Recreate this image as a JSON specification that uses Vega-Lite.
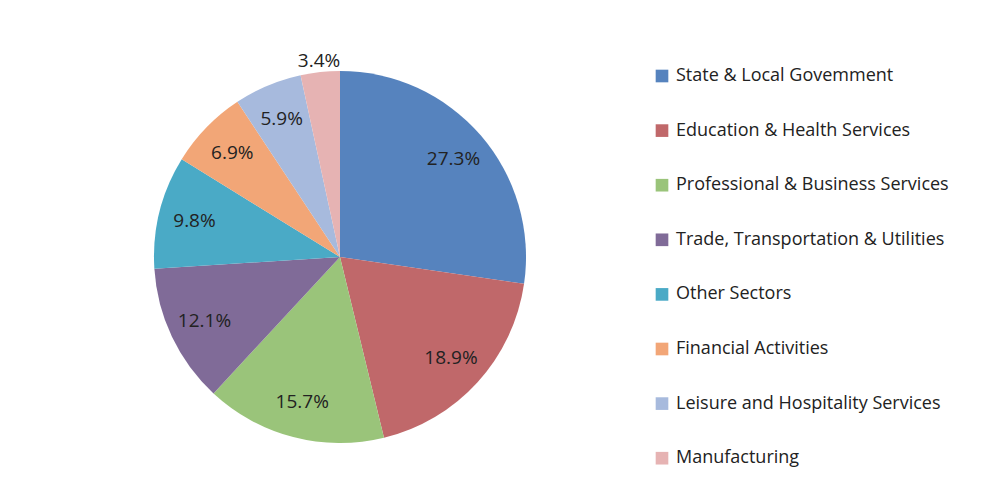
{
  "$schema": "https://vega.github.io/schema/vega-lite/v6.json",
  "width": 662,
  "height": 492,
  "autosize": {"type": "none"},
  "padding": {"left": 9, "top": 11, "right": 314, "bottom": 1},
  "background": "white",
  "data": {
    "values": [
      {"sector": "State & Local Govemment", "value": 27.3, "label": "27.3%", "order": 1},
      {"sector": "Education & Health Services", "value": 18.9, "label": "18.9%", "order": 2},
      {"sector": "Professional & Business Services", "value": 15.7, "label": "15.7%", "order": 3},
      {"sector": "Trade, Transportation & Utilities", "value": 12.1, "label": "12.1%", "order": 4},
      {"sector": "Other Sectors", "value": 9.8, "label": "9.8%", "order": 5},
      {"sector": "Financial Activities", "value": 6.9, "label": "6.9%", "order": 6},
      {"sector": "Leisure and Hospitality Services", "value": 5.9, "label": "5.9%", "order": 7},
      {"sector": "Manufacturing", "value": 3.4, "label": "3.4%", "order": 8}
    ]
  },
  "transform": [
    {"stack": "value", "groupby": [], "sort": [{"field": "order", "order": "ascending"}], "as": ["v0", "v1"]},
    {"calculate": "(datum.v0 + datum.v1) / 2", "as": "mid"}
  ],
  "encoding": {
    "color": {
      "field": "sector",
      "type": "nominal",
      "sort": {"field": "order"},
      "scale": {
        "domain": ["State & Local Govemment", "Education & Health Services", "Professional & Business Services", "Trade, Transportation & Utilities", "Other Sectors", "Financial Activities", "Leisure and Hospitality Services", "Manufacturing"],
        "range": ["#5683BE", "#C0686A", "#9AC47A", "#806B98", "#4AAAC6", "#F2A677", "#A7BADD", "#E6B3B3"]
      },
      "legend": {
        "orient": "none",
        "legendX": 644,
        "legendY": 56,
        "title": null,
        "symbolType": "square",
        "symbolSize": 160,
        "symbolStrokeWidth": 0,
        "labelFont": "Open Sans",
        "labelFontSize": 18,
        "labelColor": "#222222",
        "labelOffset": 5,
        "rowPadding": 36.6,
        "labelLimit": 320
      }
    }
  },
  "layer": [
    {
      "mark": {"type": "arc", "outerRadius": 186, "stroke": null},
      "encoding": {
        "theta": {"field": "v0", "type": "quantitative", "stack": null, "scale": {"domain": [0, 100]}},
        "theta2": {"field": "v1"}
      }
    },
    {
      "transform": [{"filter": "datum.value >= 4"}],
      "mark": {"type": "text", "font": "Open Sans", "fontSize": 19, "radius": 150},
      "encoding": {
        "theta": {"field": "mid", "type": "quantitative", "stack": null},
        "text": {"field": "label", "type": "nominal"},
        "color": {"value": "#222222"}
      }
    },
    {
      "transform": [{"filter": "datum.value < 4"}],
      "mark": {"type": "text", "font": "Open Sans", "fontSize": 19, "radius": 197},
      "encoding": {
        "theta": {"field": "mid", "type": "quantitative", "stack": null},
        "text": {"field": "label", "type": "nominal"},
        "color": {"value": "#222222"}
      }
    }
  ],
  "config": {"view": {"stroke": null}}
}
